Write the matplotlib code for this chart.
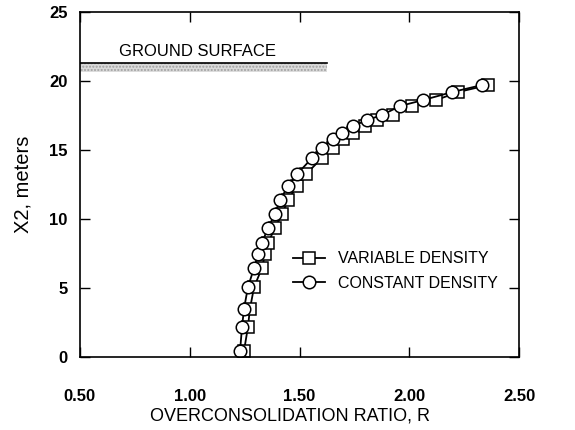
import matplotlib.pyplot as plt

plt.rcParams['font.family'] = ['Liberation Sans', 'DejaVu Sans']

# depth (m) shared by both runs
depth = [0.43, 2.17, 3.48, 5.07, 6.45, 7.46, 8.26, 9.35, 10.36, 11.38, 12.39,
         13.26, 14.42, 15.14, 15.80, 16.23, 16.74, 17.17, 17.54, 18.19, 18.62,
         19.20, 19.71]

# overconsolidation ratio, constant density
r_const = [1.229, 1.238, 1.247, 1.265, 1.293, 1.311, 1.329, 1.356, 1.388, 1.411,
           1.448, 1.489, 1.557, 1.602, 1.653, 1.694, 1.744, 1.808, 1.876, 1.958,
           2.063, 2.195, 2.331]

# overconsolidation ratio, variable density
r_var = [1.247, 1.265, 1.274, 1.293, 1.329, 1.343, 1.356, 1.388, 1.420, 1.448,
         1.489, 1.530, 1.602, 1.653, 1.698, 1.744, 1.798, 1.853, 1.926, 2.013,
         2.122, 2.222, 2.359]

x_ticks = [0.5, 1.0, 1.5, 2.0, 2.5]
x_labels = ['0.50', '1.00', '1.50', '2.00', '2.50']
y_ticks = [0, 5, 10, 15, 20, 25]

ground_top = 21.3
ground_bottom = 20.65
ground_end = 1.625

fig = plt.figure(figsize=(5.75, 4.30), dpi=100)
ax = fig.add_axes([0.139, 0.170, 0.764, 0.802])

# ground surface band
ax.fill_between([0.5, ground_end], ground_bottom, ground_top,
                facecolor='#dcdcdc', edgecolor='#a0a0a0', hatch='.....',
                linewidth=0)
ax.plot([0.5, ground_end], [ground_top, ground_top], color='black', lw=1.2)
ax.text(0.68, ground_top + 0.3, 'GROUND SURFACE', fontsize=12,
        ha='left', va='bottom')

ax.plot(r_var, depth, color='black', lw=1.3, marker='s', ms=8,
        mfc='white', mec='black', mew=1.1, label='VARIABLE DENSITY')
ax.plot(r_const, depth, color='black', lw=1.3, marker='o', ms=9,
        mfc='white', mec='black', mew=1.1, label='CONSTANT DENSITY')

ax.set_xlim(0.5, 2.5)
ax.set_ylim(0, 25)
ax.set_xticks(x_ticks)
ax.set_xticklabels(x_labels)
ax.set_yticks(y_ticks)
ax.tick_params(direction='in', length=7, width=1, top=True, right=True,
               labelsize=12)
ax.tick_params(axis='x', pad=23)
ax.tick_params(axis='y', pad=9)
for lbl in ax.get_xticklabels() + ax.get_yticklabels():
    lbl.set_fontweight('bold')
for s in ax.spines.values():
    s.set_linewidth(1.2)

ax.set_xlabel('OVERCONSOLIDATION RATIO, R', fontsize=13)
ax.xaxis.set_label_coords(0.478, -0.148)
ax.set_ylabel('X2, meters', fontsize=14.5)
ax.yaxis.set_label_coords(-0.108, 0.5)

ax.legend(loc='upper left', bbox_to_anchor=(0.47, 0.325), frameon=False,
          fontsize=11.5, handlelength=2.0, handletextpad=0.8,
          labelspacing=0.6, borderaxespad=0)

fig.savefig('out.png', dpi=100)
